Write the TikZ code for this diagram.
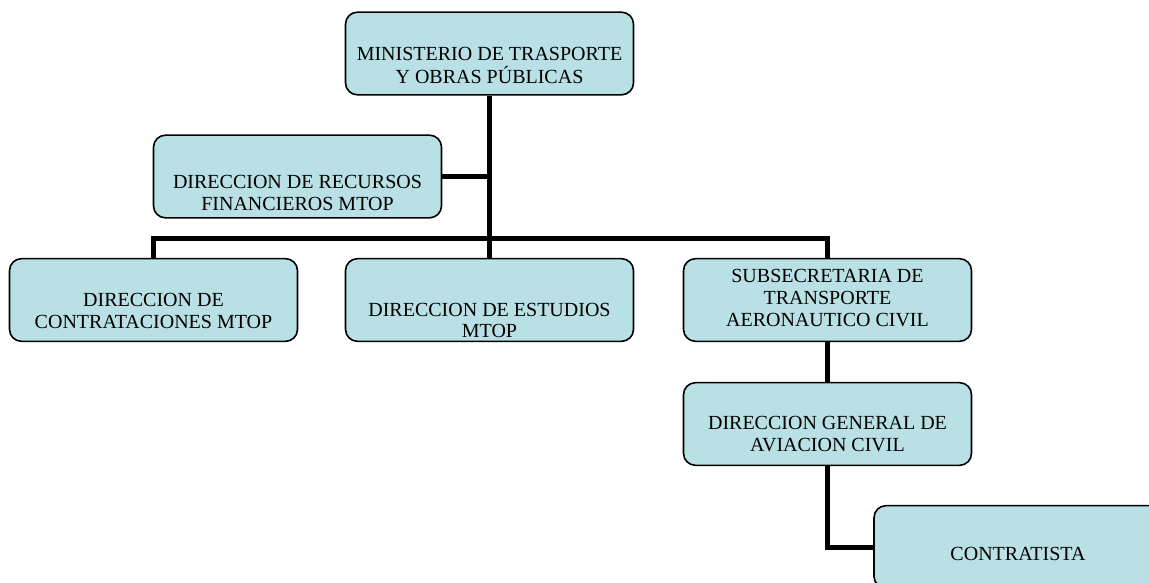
\documentclass[tikz,border=0pt]{standalone}
\usepackage{fontspec}
\setmainfont{Liberation Serif}
\usepackage{xcolor}
\usetikzlibrary{backgrounds}
\definecolor{PaleTeal}{RGB}{185,224,228}
% text set lower in the box, as in the chart
\newcommand{\drop}[2]{\raisebox{-#1}[\height][\depth]{\begin{tabular}{@{}c@{}}#2\end{tabular}}}

\begin{document}
\begin{tikzpicture}[x=0.75pt,y=-0.75pt,
  box/.style={draw=black,line width=1.2pt,fill=PaleTeal,rounded corners=9pt,
    minimum width=216pt,minimum height=62pt,inner sep=2pt,align=center,
    font=\fontsize{15}{16.3}\selectfont},
  link/.style={draw=black,line width=3.75pt}]
\useasboundingbox (0,0) rectangle (1149,582);
\clip (0,0) rectangle (1149,582);

% ===== top =====
\node[box] (min) at (489.5,53.5) {\drop{10.5pt}{MINISTERIO DE TRASPORTE\\Y OBRAS PÚBLICAS}};
\node[box] (rec) at (297.5,176.5) {\drop{14pt}{DIRECCION DE RECURSOS\\FINANCIEROS MTOP}};
% ===== second row =====
\node[box] (con) at (153.5,300) {\drop{10pt}{DIRECCION DE\\CONTRATACIONES MTOP}};
\node[box] (est) at (489.5,300) {\drop{17pt}{DIRECCION DE ESTUDIOS\\MTOP}};
\node[box] (sub) at (827.5,300) {\drop{0pt}{SUBSECRETARIA DE\\TRANSPORTE\\AERONAUTICO CIVIL}};
% ===== aviation branch =====
\node[box] (dga) at (827.5,424) {\drop{9pt}{DIRECCION GENERAL DE\\AVIACION CIVIL}};
\node[box] (ctr) at (1018,547) {\drop{6.5pt}{CONTRATISTA}};
\coordinate (bus) at (489.5,238);

% ===== connectors =====
\begin{scope}[on background layer]
\draw[link] (min.south) -- (est.north);
\draw[link] (rec.east) -- (min.south |- rec.east);
\draw[link] (con.north) |- (bus) -| (sub.north);
\draw[link] (sub.south) -- (dga.north);
\draw[link] (dga.south) |- (ctr.west);
\end{scope}
\end{tikzpicture}
\end{document}
